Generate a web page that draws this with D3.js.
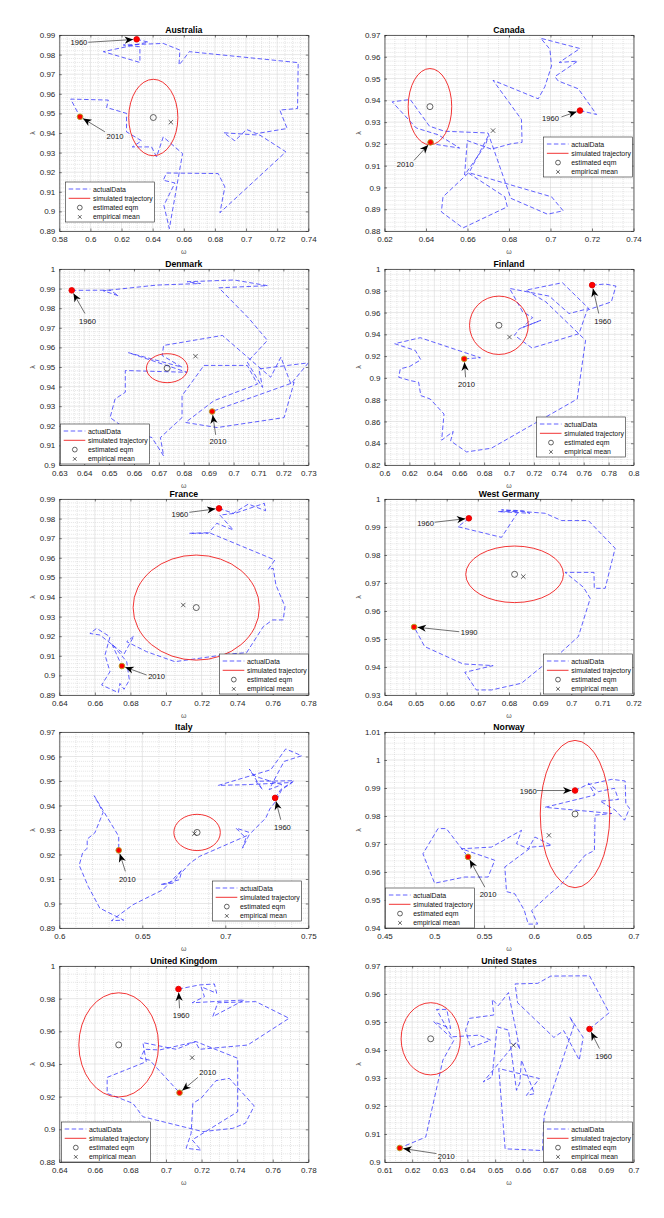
<!DOCTYPE html>
<html>
<head>
<meta charset="utf-8">
<script src="https://cdn.jsdelivr.net/npm/d3@7"></script>
<style>
  body { margin: 0; background: #fff; }
  svg { font-family: "Liberation Sans", Arial, Helvetica, sans-serif; }
</style>
</head>
<body>
<svg id="chart" width="664" height="1218"></svg>
<script>
// ---- data ----
const COUNTRIES = ["Australia", "Canada", "Denmark", "Finland", "France",
    "West Germany", "Italy", "Norway", "United Kingdom", "United States"];

const X_TICKS = [
    [0.58, 0.6, 0.62, 0.64, 0.66, 0.68, 0.7, 0.72, 0.74],
    [0.62, 0.64, 0.66, 0.68, 0.7, 0.72, 0.74],
    [0.63, 0.64, 0.65, 0.66, 0.67, 0.68, 0.69, 0.7, 0.71, 0.72, 0.73],
    [0.6, 0.62, 0.64, 0.66, 0.68, 0.7, 0.72, 0.74, 0.76, 0.78, 0.8],
    [0.64, 0.66, 0.68, 0.7, 0.72, 0.74, 0.76, 0.78],
    [0.64, 0.65, 0.66, 0.67, 0.68, 0.69, 0.7, 0.71, 0.72],
    [0.6, 0.65, 0.7, 0.75],
    [0.45, 0.5, 0.55, 0.6, 0.65, 0.7],
    [0.64, 0.66, 0.68, 0.7, 0.72, 0.74, 0.76, 0.78],
    [0.61, 0.62, 0.63, 0.64, 0.65, 0.66, 0.67, 0.68, 0.69, 0.7]
];
const Y_TICKS = [
    [0.89, 0.9, 0.91, 0.92, 0.93, 0.94, 0.95, 0.96, 0.97, 0.98, 0.99],
    [0.88, 0.89, 0.9, 0.91, 0.92, 0.93, 0.94, 0.95, 0.96, 0.97],
    [0.9, 0.91, 0.92, 0.93, 0.94, 0.95, 0.96, 0.97, 0.98, 0.99, 1],
    [0.82, 0.84, 0.86, 0.88, 0.9, 0.92, 0.94, 0.96, 0.98, 1],
    [0.89, 0.9, 0.91, 0.92, 0.93, 0.94, 0.95, 0.96, 0.97, 0.98, 0.99],
    [0.93, 0.94, 0.95, 0.96, 0.97, 0.98, 0.99, 1],
    [0.89, 0.9, 0.91, 0.92, 0.93, 0.94, 0.95, 0.96, 0.97],
    [0.94, 0.95, 0.96, 0.97, 0.98, 0.99, 1, 1.01],
    [0.88, 0.9, 0.92, 0.94, 0.96, 0.98, 1],
    [0.9, 0.91, 0.92, 0.93, 0.94, 0.95, 0.96, 0.97]
];

// actual (omega, lambda) trajectories, first point = start year, last = end year
const australia = [[0.6297,0.9878],[0.6372,0.9864],[0.6083,0.9815],[0.6318,0.9760],[0.6318,0.9840],
    [0.6211,0.9849],[0.6468,0.9857],[0.6575,0.9823],[0.6569,0.9747],[0.6592,0.9769],[0.6635,0.9815],
    [0.7335,0.9759],[0.7331,0.9525],[0.7217,0.9517],[0.7264,0.9423],[0.7067,0.9397],[0.7003,0.9418],
    [0.6928,0.9360],[0.6858,0.9401],[0.7089,0.9389],[0.7256,0.9304],[0.6832,0.8993],[0.6864,0.9125],
    [0.6821,0.9193],[0.6489,0.9196],[0.6468,0.9159],[0.6543,0.9145],[0.6472,0.9031],[0.6507,0.8912],
    [0.6592,0.9295],[0.6468,0.9380],[0.6425,0.9278],[0.6393,0.9329],[0.6269,0.9329],[0.6329,0.9360],
    [0.6232,0.9406],[0.6232,0.9500],[0.6104,0.9530],[0.6115,0.9568],[0.5873,0.9573],[0.5933,0.9483]];
const canada = [[0.7142,0.9353],[0.7222,0.9335],[0.7134,0.9453],[0.7037,0.9489],[0.7021,0.9509],
    [0.7131,0.9580],[0.7042,0.9574],[0.7142,0.9638],[0.6953,0.9685],[0.6997,0.9635],[0.7005,0.9558],
    [0.6973,0.9463],[0.6941,0.9407],[0.6723,0.9492],[0.6860,0.9312],[0.6863,0.9207],[0.6812,0.9201],
    [0.6715,0.9176],[0.6599,0.9215],[0.6586,0.9057],[0.6688,0.9196],[0.6699,0.9235],[0.6606,0.9065],
    [0.6780,0.8957],[0.6792,0.8911],[0.6578,0.8814],[0.6474,0.8888],[0.6482,0.8957],[0.6606,0.9068],
    [0.7005,0.8957],[0.7061,0.8893],[0.6986,0.8877],[0.6809,0.8950],[0.6699,0.9250],[0.6490,0.9258],
    [0.6417,0.9281],[0.6324,0.9404],[0.6237,0.9393],[0.6353,0.9273],[0.6458,0.9242],[0.6562,0.9181],
    [0.6458,0.9196],[0.6422,0.9207]];
const denmark = [[0.6350,0.9891],[0.6504,0.9892],[0.6538,0.9863],[0.6477,0.9889],[0.6692,0.9918],
    [0.6867,0.9926],[0.6813,0.9935],[0.7002,0.9944],[0.7136,0.9915],[0.6941,0.9904],[0.7062,0.9747],
    [0.7136,0.9636],[0.7055,0.9525],[0.7116,0.9396],[0.7102,0.9490],[0.7300,0.9521],[0.7230,0.9413],
    [0.7190,0.9550],[0.7149,0.9448],[0.6955,0.9661],[0.6719,0.9610],[0.6713,0.9559],[0.6793,0.9499],
    [0.6578,0.9573],[0.6813,0.9473],[0.6565,0.9482],[0.6565,0.9371],[0.6524,0.9337],[0.6504,0.9242],
    [0.6578,0.9174],[0.6672,0.9140],[0.6719,0.9046],[0.6706,0.9140],[0.6793,0.9242],[0.6793,0.9354],
    [0.6881,0.9508],[0.7055,0.9508],[0.7096,0.9413],[0.6921,0.9328],[0.6807,0.9217],[0.6934,0.9191],
    [0.7203,0.9242],[0.7243,0.9422],[0.6914,0.9273]];
const finland = [[0.7668,0.9852],[0.7774,0.9862],[0.7859,0.9843],[0.7822,0.9698],[0.7628,0.9622],
    [0.7562,0.9406],[0.7185,0.9274],[0.7044,0.9391],[0.7084,0.9452],[0.7256,0.9529],[0.7110,0.9462],
    [0.7190,0.9554],[0.7110,0.9606],[0.7004,0.9822],[0.7323,0.9751],[0.7482,0.9591],[0.7641,0.9637],
    [0.7429,0.9874],[0.7137,0.9806],[0.7296,0.9698],[0.7615,0.9345],[0.7548,0.8806],[0.6858,0.8354],
    [0.6659,0.8320],[0.6531,0.8421],[0.6552,0.8508],[0.6459,0.8428],[0.6478,0.8668],[0.6367,0.8806],
    [0.6292,0.8837],[0.6274,0.8960],[0.6207,0.8975],[0.6114,0.9006],[0.6127,0.9083],[0.6202,0.9105],
    [0.6292,0.9166],[0.6247,0.9252],[0.6082,0.9314],[0.6287,0.9369],[0.6770,0.9185],[0.6640,0.9175]];
const france = [[0.7298,0.9852],[0.7378,0.9827],[0.7463,0.9874],[0.7560,0.9840],[0.7553,0.9878],
    [0.7388,0.9827],[0.7303,0.9818],[0.7378,0.9742],[0.7285,0.9776],[0.7238,0.9725],[0.7131,0.9725],
    [0.7243,0.9728],[0.7612,0.9589],[0.7575,0.9541],[0.7603,0.9546],[0.7618,0.9461],[0.7669,0.9351],
    [0.7659,0.9283],[0.7599,0.9283],[0.7547,0.9249],[0.7453,0.9116],[0.7359,0.9109],[0.7050,0.9070],
    [0.6891,0.9121],[0.6779,0.9172],[0.6820,0.9201],[0.6764,0.9109],[0.6629,0.9206],[0.6572,0.9214],
    [0.6610,0.9240],[0.6685,0.9197],[0.6657,0.9104],[0.6685,0.9019],[0.6638,0.8951],[0.6732,0.8912],
    [0.6741,0.8959],[0.6764,0.8929],[0.6794,0.8976],[0.6779,0.9070],[0.6694,0.9163],[0.6752,0.9048]];
const westGermany = [[0.6671,0.9931],[0.6636,0.9901],[0.6776,0.9863],[0.6830,0.9955],[0.6765,0.9955],
    [0.6867,0.9949],[0.6846,0.9958],[0.6776,0.9961],[0.6916,0.9949],[0.6969,0.9923],[0.7055,0.9923],
    [0.7141,0.9824],[0.7109,0.9681],[0.7074,0.9681],[0.7073,0.9738],[0.6980,0.9738],[0.7039,0.9685],
    [0.7061,0.9645],[0.7023,0.9509],[0.6964,0.9449],[0.6905,0.9401],[0.6840,0.9342],[0.6744,0.9318],
    [0.6695,0.9318],[0.6658,0.9381],[0.6749,0.9405],[0.6652,0.9411],[0.6529,0.9473],[0.6495,0.9543]];
const italy = [[0.7300,0.9431],[0.7334,0.9465],[0.7414,0.9501],[0.7184,0.9499],[0.7224,0.9465],
    [0.7144,0.9549],[0.7180,0.9519],[0.7340,0.9485],[0.7264,0.9465],[0.7354,0.9580],[0.7460,0.9603],
    [0.7364,0.9631],[0.7274,0.9546],[0.6958,0.9482],[0.7124,0.9485],[0.7404,0.9494],[0.7340,0.9465],
    [0.7304,0.9417],[0.7268,0.9386],[0.7244,0.9349],[0.7154,0.9288],[0.7064,0.9308],[0.7124,0.9267],
    [0.7104,0.9226],[0.7144,0.9281],[0.6844,0.9192],[0.6788,0.9165],[0.6734,0.9124],[0.6724,0.9097],
    [0.6610,0.9077],[0.6684,0.9083],[0.6740,0.9138],[0.6624,0.9056],[0.6444,0.8995],[0.6314,0.8930],
    [0.6388,0.8932],[0.6244,0.8981],[0.6174,0.9070],[0.6120,0.9156],[0.6140,0.9206],[0.6168,0.9226],
    [0.6168,0.9263],[0.6214,0.9288],[0.6264,0.9372],[0.6210,0.9440],[0.6334,0.9301],[0.6358,0.9274],
    [0.6358,0.9217]];
const norway = [[0.6413,0.9891],[0.6530,0.9911],[0.6782,0.9931],[0.6916,0.9925],[0.6923,0.9845],
    [0.6960,0.9827],[0.6910,0.9785],[0.6816,0.9821],[0.6665,0.9853],[0.6849,0.9859],[0.6809,0.9899],
    [0.6648,0.9887],[0.6547,0.9917],[0.6614,0.9875],[0.6111,0.9831],[0.6782,0.9809],[0.6614,0.9803],
    [0.6608,0.9677],[0.6514,0.9660],[0.6279,0.9558],[0.6161,0.9522],[0.5977,0.9462],[0.6037,0.9414],
    [0.5943,0.9414],[0.5903,0.9464],[0.5809,0.9522],[0.5725,0.9530],[0.5708,0.9618],[0.5977,0.9689],
    [0.6178,0.9695],[0.6010,0.9725],[0.5943,0.9683],[0.5826,0.9701],[0.5876,0.9749],[0.5574,0.9689],
    [0.5272,0.9683],[0.5607,0.9642],[0.5540,0.9582],[0.5305,0.9582],[0.5003,0.9560],[0.4886,0.9665],
    [0.5037,0.9755],[0.5121,0.9755],[0.5339,0.9654]];
const unitedKingdom = [[0.7070,0.9859],[0.7188,0.9884],[0.7272,0.9890],[0.7285,0.9833],[0.7197,0.9873],
    [0.7216,0.9812],[0.7147,0.9775],[0.7440,0.9792],[0.7263,0.9690],[0.7291,0.9775],[0.7505,0.9782],
    [0.7692,0.9680],[0.7459,0.9516],[0.7188,0.9490],[0.7165,0.9537],[0.7057,0.9490],[0.6870,0.9531],
    [0.6889,0.9414],[0.6669,0.9318],[0.6669,0.9220],[0.6814,0.9159],[0.6870,0.9077],[0.7207,0.8986],
    [0.7375,0.9006],[0.7446,0.9037],[0.7496,0.9143],[0.7356,0.9312],[0.7281,0.9298],[0.7197,0.9190],
    [0.7151,0.9159],[0.7141,0.8975],[0.7113,0.8884],[0.7197,0.8873],[0.7147,0.8935],[0.7403,0.9108],
    [0.7403,0.9435],[0.7169,0.9537],[0.6964,0.9486],[0.6880,0.9490],[0.6856,0.9435],[0.6908,0.9424],
    [0.7076,0.9224]];
const unitedStates = [[0.6841,0.9475],[0.6912,0.9533],[0.6841,0.9665],[0.6701,0.9664],[0.6654,0.9638],
    [0.6572,0.9636],[0.6581,0.9569],[0.6712,0.9445],[0.6748,0.9469],[0.6804,0.9364],[0.6818,0.9445],
    [0.6769,0.9519],[0.6785,0.9489],[0.6677,0.9167],[0.6671,0.9041],[0.6536,0.9047],[0.6513,0.9334],
    [0.6660,0.9298],[0.6613,0.9238],[0.6642,0.9244],[0.6595,0.9364],[0.6589,0.9282],[0.6577,0.9256],
    [0.6548,0.9471],[0.6507,0.9483],[0.6489,0.9304],[0.6457,0.9286],[0.6577,0.9429],[0.6589,0.9402],
    [0.6548,0.9605],[0.6511,0.9558],[0.6489,0.9581],[0.6495,0.9525],[0.6407,0.9513],[0.6393,0.9471],
    [0.6411,0.9409],[0.6484,0.9435],[0.6443,0.9453],[0.6343,0.9447],[0.6288,0.9545],[0.6325,0.9545],
    [0.6339,0.9477],[0.6278,0.9501],[0.6351,0.9435],[0.6311,0.9364],[0.6249,0.9089],[0.6155,0.9050]];

const PATHS = [australia, canada, denmark, finland, france,
    westGermany, italy, norway, unitedKingdom, unitedStates];

// estimated equilibrium, empirical mean, half-widths of the simulated trajectory
const EQM = [[0.6404,0.9479],[0.6419,0.9371],[0.6733,0.9494],[0.6919,0.9483],[0.7170,0.9346],
    [0.6818,0.9731],[0.6830,0.9290],[0.6413,0.9807],[0.6734,0.9517],[0.6267,0.9440]];
const EMP_MEAN = [[0.6517,0.9455],[0.6723,0.9261],[0.6847,0.9555],[0.7004,0.9375],[0.7097,0.9359],
    [0.6846,0.9723],[0.6814,0.9285],[0.6151,0.9731],[0.7147,0.9439],[0.6566,0.9417]];
const SIM_HALF = [[0.0158,0.0195],[0.0105,0.0175],[0.0083,0.0074],[0.0236,0.0268],[0.0355,0.0268],
    [0.0157,0.0101],[0.0140,0.0074],[0.0349,0.0263],[0.0224,0.0319],[0.0107,0.0129]];

const START_YEAR = [1960, 1960, 1960, 1960, 1960, 1960, 1960, 1960, 1960, 1960];
const END_YEAR = [2010, 2010, 2010, 2010, 2010, 1990, 2010, 2010, 2010, 2010];

const LEGEND_LABELS = ["actualData", "simulated trajectory", "estimated eqm", "empirical mean"];

// ---- layout ----
// year label placement (data units): [text centre, arrow tail] for start then end
const NOTES = [
    [[[0.5926,0.9861],[0.5986,0.9863]], [[0.6158,0.9384],[0.6093,0.9406]]],
    [[[0.7000,0.9315],[0.7053,0.9324]], [[0.6300,0.9104],[0.6342,0.9124]]],
    [[[0.6413,0.9733],[0.6403,0.9773]], [[0.6937,0.9118],[0.6928,0.9154]]],
    [[[0.7753,0.9520],[0.7721,0.9591]], [[0.6659,0.8938],[0.6651,0.9006]]],
    [[[0.7078,0.9823],[0.7131,0.9832]], [[0.6947,0.8993],[0.6891,0.9002]]],
    [[[0.6532,0.9913],[0.6561,0.9917]], [[0.6672,0.9523],[0.6640,0.9526]]],
    [[[0.7344,0.9312],[0.7334,0.9342]], [[0.6410,0.9100],[0.6398,0.9131]]],
    [[[0.5943,0.9887],[0.6027,0.9891]], [[0.5540,0.9520],[0.5507,0.9546]]],
    [[[0.7085,0.9700],[0.7076,0.9741]], [[0.7235,0.9347],[0.7179,0.9318]]],
    [[[0.6892,0.9378],[0.6877,0.9405]], [[0.6323,0.9018],[0.6288,0.9030]]]
];
const LEGEND_AT = [[6,147],[159,102],[1,155],[152,148],[160,155],[159,155],[153,149],[1,156],[2,156],[159,156]];

const COL_X = [59.3, 384.5];
const ROW_Y = [35, 269, 499, 732, 966];
const W = 249, H = 196;

const svg = d3.select('#chart');
const fmt = d3.format('~g');

svg.append('defs').append('marker')
    .attr('id', 'arrowHead')
    .attr('viewBox', '-10 -5 12 10')
    .attr('refX', 0).attr('refY', 0)
    .attr('markerWidth', 12).attr('markerHeight', 10)
    .attr('markerUnits', 'userSpaceOnUse')
    .attr('orient', 'auto')
    .append('path')
    .attr('d', 'M0,0 L-8.5,-3.6 L-6,0 L-8.5,3.6 Z')
    .attr('fill', '#000');

function minorTicks(ticks) {
    const step = ticks[1] - ticks[0];
    const sub = Math.abs(step - 0.02) < 1e-9 ? 4 : 5;
    const out = [];
    for (let i = 0; i < ticks.length - 1; i++) {
        for (let k = 1; k < sub; k++) out.push(ticks[i] + k * step / sub);
    }
    return out;
}

COUNTRIES.forEach((name, i) => {
    const left = COL_X[i % 2], top = ROW_Y[Math.floor(i / 2)];
    const xt = X_TICKS[i], yt = Y_TICKS[i];

    const x = d3.scaleLinear().domain([xt[0], xt[xt.length - 1]]).range([0, W]);
    const y = d3.scaleLinear().domain([yt[0], yt[yt.length - 1]]).range([H, 0]);

    const g = svg.append('g').attr('transform', 'translate(' + left + ',' + top + ')');

    g.append('clipPath').attr('id', 'clip' + i)
        .append('rect').attr('width', W).attr('height', H);

    // minor grid
    g.selectAll('.mx').data(minorTicks(xt)).enter().append('line')
        .attr('x1', d => x(d)).attr('x2', d => x(d)).attr('y1', 0).attr('y2', H)
        .attr('stroke', '#bdbdbd').attr('stroke-width', 0.5).attr('stroke-dasharray', '0.8,1.2');
    g.selectAll('.my').data(minorTicks(yt)).enter().append('line')
        .attr('y1', d => y(d)).attr('y2', d => y(d)).attr('x1', 0).attr('x2', W)
        .attr('stroke', '#bdbdbd').attr('stroke-width', 0.5).attr('stroke-dasharray', '0.8,1.2');
    // major grid
    g.selectAll('.gx').data(xt).enter().append('line')
        .attr('x1', d => x(d)).attr('x2', d => x(d)).attr('y1', 0).attr('y2', H)
        .attr('stroke', '#d6d6d6').attr('stroke-width', 0.6);
    g.selectAll('.gy').data(yt).enter().append('line')
        .attr('y1', d => y(d)).attr('y2', d => y(d)).attr('x1', 0).attr('x2', W)
        .attr('stroke', '#d6d6d6').attr('stroke-width', 0.6);

    // axes (ticks pointing in, box all round)
    g.append('g').attr('transform', 'translate(0,' + H + ')')
        .call(d3.axisBottom(x).tickValues(xt).tickFormat(fmt).tickSizeInner(-2.5).tickSizeOuter(0).tickPadding(5));
    g.append('g')
        .call(d3.axisLeft(y).tickValues(yt).tickFormat(fmt).tickSizeInner(-2.5).tickSizeOuter(0).tickPadding(4));
    g.append('g')
        .call(d3.axisTop(x).tickValues(xt).tickFormat('').tickSizeInner(-2.5).tickSizeOuter(0));
    g.append('g').attr('transform', 'translate(' + W + ',0)')
        .call(d3.axisRight(y).tickValues(yt).tickFormat('').tickSizeInner(-2.5).tickSizeOuter(0));
    g.selectAll('.domain').attr('stroke', '#262626').attr('stroke-width', 0.7);
    g.selectAll('.tick line').attr('stroke', '#262626').attr('stroke-width', 0.6);
    g.selectAll('.tick text').attr('fill', '#262626').style('font-size', '8px')
        .style('font-family', '"Liberation Sans", Arial, sans-serif');

    // axis labels and title
    g.append('text').attr('x', W / 2).attr('y', H + 23).attr('text-anchor', 'middle')
        .attr('fill', '#555').style('font-size', '7px').text('ω');
    g.append('text').attr('transform', 'translate(-24,' + H / 2 + ') rotate(-90)')
        .attr('text-anchor', 'middle').attr('fill', '#555').style('font-size', '7px').text('λ');
    g.append('text').attr('x', W / 2).attr('y', -2.5).attr('text-anchor', 'middle')
        .style('font-size', '8.7px').style('font-weight', 'bold').attr('fill', '#000').text(name);

    const plot = g.append('g').attr('clip-path', 'url(#clip' + i + ')');

    // actual data trajectory
    const line = d3.line().x(d => x(d[0])).y(d => y(d[1]));
    plot.append('path').datum(PATHS[i]).attr('d', line)
        .attr('fill', 'none').attr('stroke', '#2f2fff').attr('stroke-opacity', 0.85)
        .attr('stroke-width', 0.9).attr('stroke-dasharray', '4.5,2.5');

    // simulated trajectory (closed orbit around eqm)
    const c = EQM[i], r = SIM_HALF[i];
    plot.append('ellipse')
        .attr('cx', x(c[0])).attr('cy', y(c[1]))
        .attr('rx', x(c[0] + r[0]) - x(c[0])).attr('ry', y(c[1]) - y(c[1] + r[1]))
        .attr('fill', 'none').attr('stroke', '#f01e1e').attr('stroke-width', 0.9);

    // eqm and empirical mean
    g.append('circle').attr('cx', x(c[0])).attr('cy', y(c[1])).attr('r', 3)
        .attr('fill', 'none').attr('stroke', '#222').attr('stroke-width', 0.7);
    const m = EMP_MEAN[i];
    g.append('path')
        .attr('d', 'M' + (x(m[0]) - 2.2) + ',' + (y(m[1]) - 2.2) + 'l4.4,4.4m0,-4.4l-4.4,4.4')
        .attr('stroke', '#222').attr('stroke-width', 0.7);

    // start / end points with year labels
    const pts = PATHS[i];
    const ends = [pts[0], pts[pts.length - 1]];
    const years = [START_YEAR[i], END_YEAR[i]];
    ends.forEach((p, k) => {
        const note = NOTES[i][k];
        const px = x(p[0]), py = y(p[1]);
        const tx = x(note[1][0]), ty = y(note[1][1]);
        const len = Math.hypot(px - tx, py - ty);
        const hx = px - (px - tx) / len * 3.5, hy = py - (py - ty) / len * 3.5;
        g.append('line').attr('x1', tx).attr('y1', ty).attr('x2', hx).attr('y2', hy)
            .attr('stroke', '#333').attr('stroke-width', 0.7).attr('marker-end', 'url(#arrowHead)');
        g.append('circle').attr('cx', px).attr('cy', py).attr('r', 2.8)
            .attr('fill', '#ff0000').attr('stroke', k === 0 ? '#e00000' : '#b0a020').attr('stroke-width', 0.9);
        g.append('text').attr('x', x(note[0][0])).attr('y', y(note[0][1]))
            .attr('text-anchor', 'middle').attr('dominant-baseline', 'central')
            .style('font-size', '7.6px').attr('fill', '#111').text(years[k]);
    });

    // legend
    const lg = g.append('g').attr('transform', 'translate(' + LEGEND_AT[i][0] + ',' + LEGEND_AT[i][1] + ')');
    lg.append('rect').attr('width', 89).attr('height', 40)
        .attr('fill', '#fff').attr('stroke', '#262626').attr('stroke-width', 0.6);
    LEGEND_LABELS.forEach((lab, k) => {
        const ly = 7 + k * 9.3;
        if (k === 0) {
            lg.append('line').attr('x1', 3.4).attr('x2', 25).attr('y1', ly).attr('y2', ly)
                .attr('stroke', '#2f2fff').attr('stroke-opacity', 0.85).attr('stroke-width', 0.9)
                .attr('stroke-dasharray', '4.5,2.5');
        } else if (k === 1) {
            lg.append('line').attr('x1', 3.4).attr('x2', 25).attr('y1', ly).attr('y2', ly)
                .attr('stroke', '#f01e1e').attr('stroke-width', 0.9);
        } else if (k === 2) {
            lg.append('circle').attr('cx', 14.5).attr('cy', ly).attr('r', 2.4)
                .attr('fill', 'none').attr('stroke', '#222').attr('stroke-width', 0.7);
        } else {
            lg.append('path').attr('d', 'M12.7,' + (ly - 1.8) + 'l3.6,3.6m0,-3.6l-3.6,3.6')
                .attr('stroke', '#222').attr('stroke-width', 0.7);
        }
        lg.append('text').attr('x', 27.7).attr('y', ly).attr('dominant-baseline', 'central')
            .style('font-size', '6.9px').attr('fill', '#111').text(lab);
    });
});
</script>
</body>
</html>
